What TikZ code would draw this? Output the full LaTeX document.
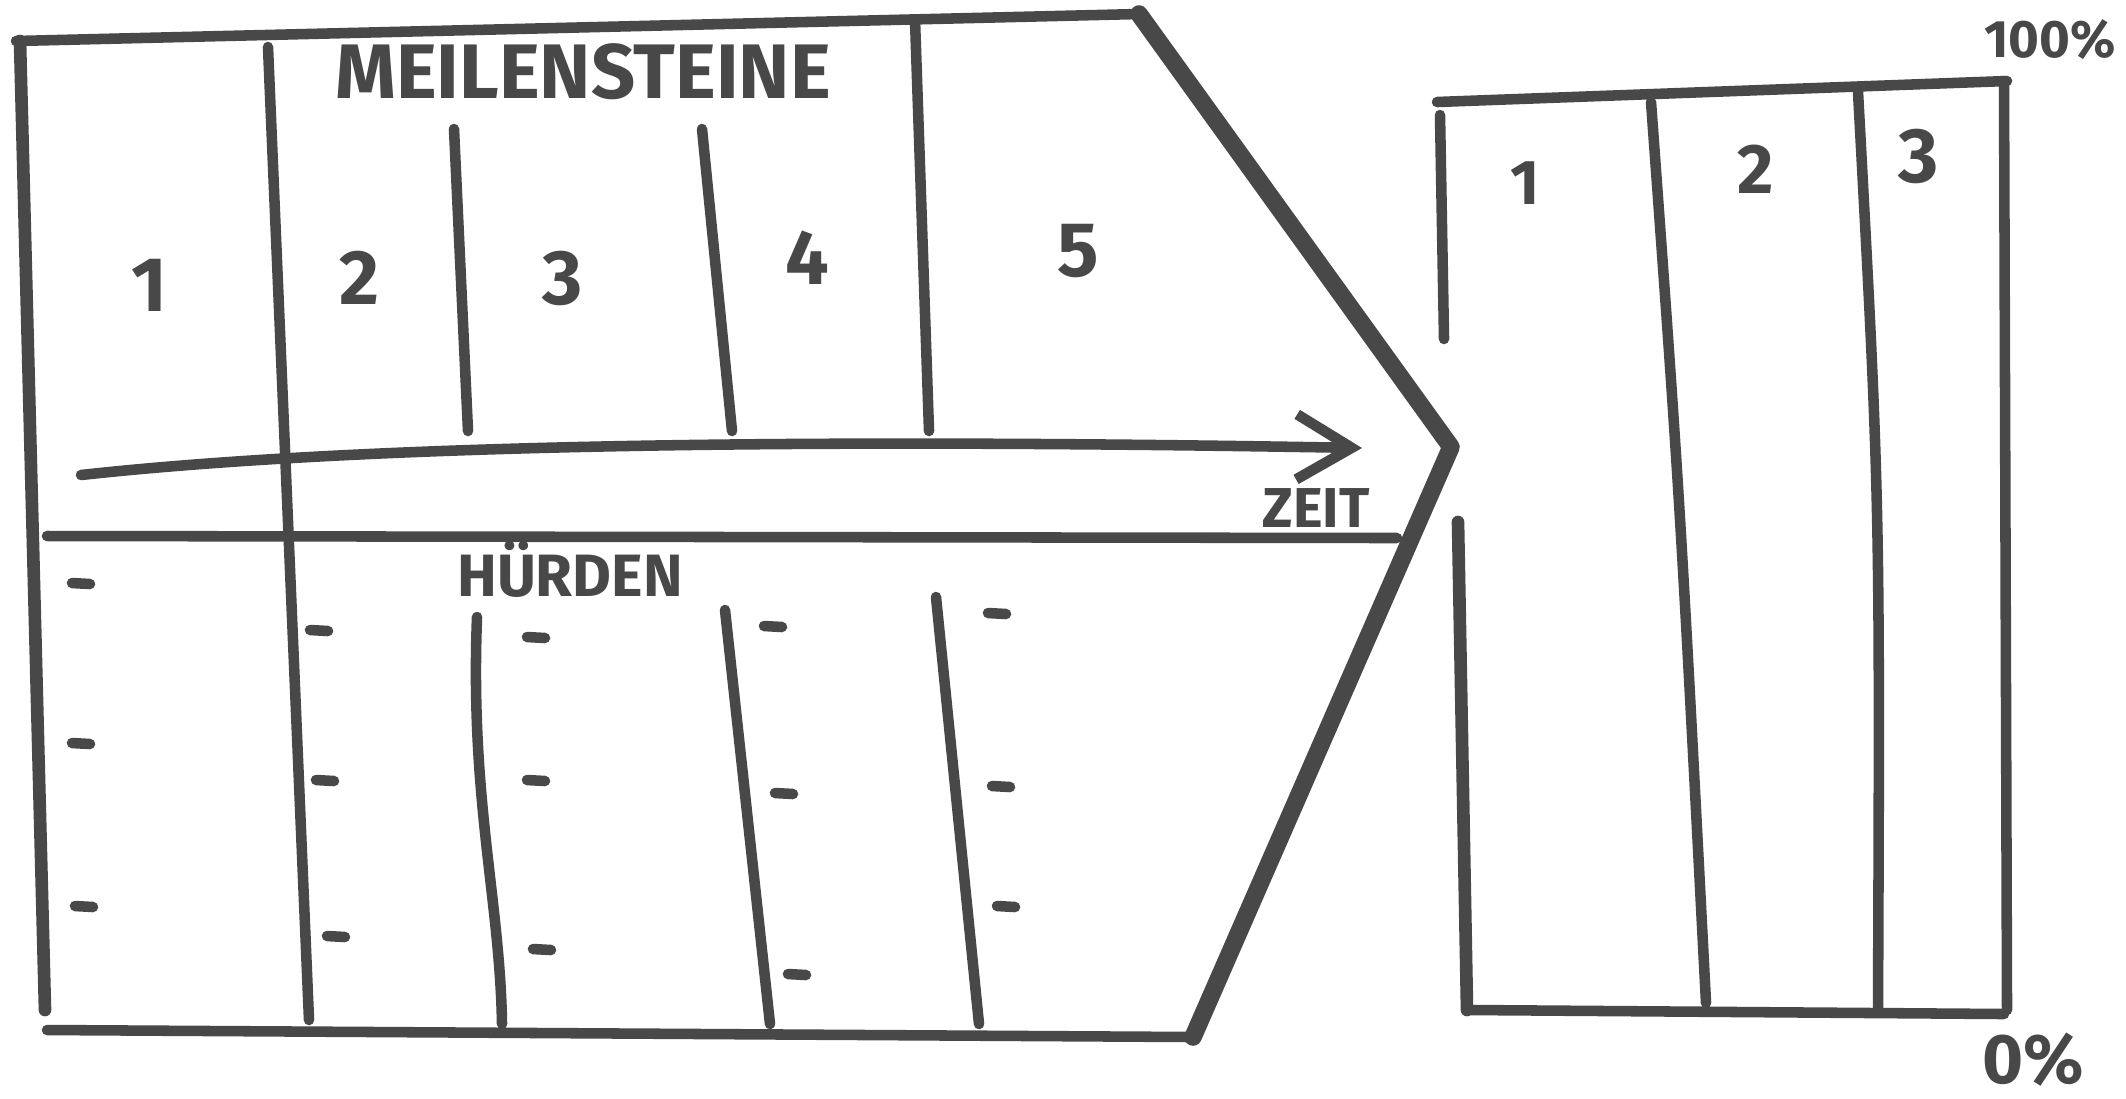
\documentclass[tikz,border=0pt]{standalone}
\usepackage{fontspec}
\setsansfont{Fira Sans}
\usetikzlibrary{arrows.meta,positioning}
\definecolor{inkGray}{RGB}{72,72,72}

\begin{document}
\begin{tikzpicture}[x=0.1mm, y=-0.1mm,
  pen/.style={draw=inkGray, line width=3pt, line cap=round, line join=round},
  fatpen/.style={draw=inkGray, line width=5pt, line cap=round, line join=round},
  hand/.style={text=inkGray, font=\sffamily\bfseries\fontsize{#1}{#1}\selectfont, inner sep=0pt},
  hand/.default=22]
\useasboundingbox (0,0) rectangle (2126,1098);
% arrow outline
\draw[pen] (16,41) -- (1139,14);
\draw[pen, line width=3.6pt] (20,41) -- (45,1010);
\draw[pen] (47,1030) -- (1193,1037);
\draw[fatpen] (1139,14) -- (1451,447) -- (1193,1037);
\draw[pen] (268,47) -- (309,1020);
% milestones
\draw[pen] (454,129) -- (468,431);
\draw[pen] (702,129) -- (732,431);
\draw[pen] (915,20) -- (929,431);
\node[hand, anchor=base] (meilen) at (583,98) {MEILENSTEINE};
\foreach \n/\x/\y in {1/149/285, 2/359/278, 3/563/278, 4/807/258, 5/1078/251}
  \node[hand] (ms\n) at (\x,\y) {\n};
% time axis
\coordinate (t0) at (81,475);
\coordinate (t1) at (1362,448);
\draw[pen, -{Straight Barb[length=5.5mm, width=6.5mm, line width=3pt]}]
  (t0) .. controls (400,440) and (900,440) .. (t1);
\node[hand=16] (zeit) at (1316,508) {ZEIT};
\draw[pen] (47,536) -- (1397,538);
% hurdles
\node[hand=17, anchor=base] (huerden) at (570,596) {HÜRDEN};
\draw[pen] (477,617) .. controls (470,800) and (500,900) .. (502,1024);
\draw[pen] (725,610) -- (770,1024);
\draw[pen] (936,597) -- (979,1024);
\foreach \x/\y in {81/583, 81/743, 84/906, 319/630, 325/780, 336/936,
                   536/637, 536/780, 542/949, 773/626, 784/793, 797/974,
                   997/613, 1001/786, 1006/906}
  \draw[pen] (\x-9,\y) -- (\x+9,\y+1);
% result bars
\draw[pen] (1437,102) -- (2007,81);
\draw[pen] (1440,115) -- (1444,339);
\draw[pen, line width=3.6pt] (1458,522) -- (1467,1010);
\draw[pen] (1471,1010) -- (2004,1014);
\draw[pen] (2004,81) -- (2007,1010);
\draw[pen] (1651,102) .. controls (1680,500) .. (1706,1003);
\draw[pen] (1858,92) .. controls (1880,500) .. (1878,1010);
\node[hand=18] (bar1) at (1525,183) {1};
\node[hand=20] (bar2) at (1756,169) {2};
\node[hand=22] (bar3) at (1919,156) {3};
\node[hand=15] (top) at (2050,40) {100\%};
\node[hand=20] (bottom) at (2033,1060) {0\%};
\end{tikzpicture}
\end{document}
